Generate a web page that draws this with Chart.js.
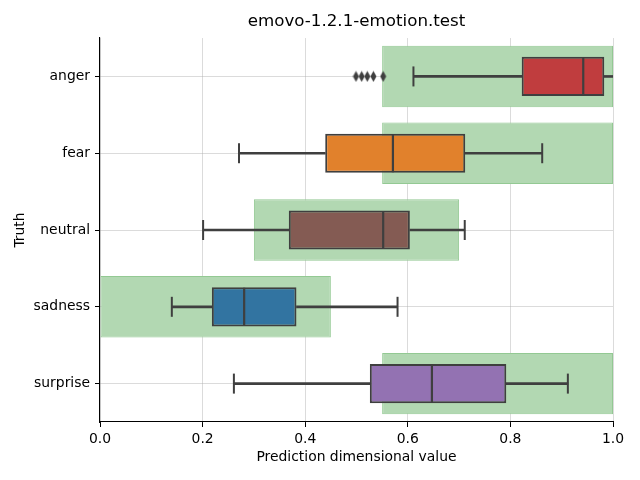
<!DOCTYPE html>
<html>
<head>
<meta charset="utf-8">
<script src="https://cdn.jsdelivr.net/npm/chart.js@4.4.1/dist/chart.umd.min.js"></script>
<style>
  html, body { margin: 0; padding: 0; background: #fff; }
  #wrap { width: 640px; height: 480px; }
</style>
</head>
<body>
<div id="wrap"><canvas id="c" width="640" height="480"></canvas></div>
<script>
// emotion categories (top to bottom)
const categories = ['anger', 'fear', 'neutral', 'sadness', 'surprise'];
// expected range for each emotion (green spans)
const rangeLow = [0.55, 0.55, 0.30, 0.00, 0.55];
const rangeHigh = [1.00, 1.00, 0.70, 0.45, 1.00];
// box plot statistics
const whiskerLow = [0.611, 0.271, 0.201, 0.140, 0.261];
const q1 = [0.822, 0.439, 0.368, 0.218, 0.526];
const median = [0.942, 0.571, 0.552, 0.281, 0.647];
const q3 = [0.983, 0.712, 0.604, 0.383, 0.792];
const whiskerHigh = [1.02, 0.862, 0.711, 0.580, 0.912];
// outliers (anger only)
const outlierCat = ['anger', 'anger', 'anger', 'anger', 'anger'];
const outlierVal = [0.499, 0.510, 0.521, 0.533, 0.552];
const xTicks = [0, 0.2, 0.4, 0.6, 0.8, 1.0];

const boxColors = ['#c03d3e', '#e1812c', '#845b53', '#3274a1', '#9372b2'];
const edge = '#3f3f3f';
const font = 'DejaVu Sans';

// thin diamond marker for outliers
let dia = document.createElement('canvas');
dia.width = 7; dia.height = 12;
let dctx = dia.getContext('2d');
dctx.fillStyle = edge;
dctx.beginPath();
dctx.moveTo(3.5, 0.5); dctx.lineTo(6.5, 6); dctx.lineTo(3.5, 11.5); dctx.lineTo(0.5, 6);
dctx.closePath();
dctx.fill();

let pts = (vals) => vals.map((v, i) => ({x: v, y: categories[i]}));

let cfg = {
    type: 'bar',
    data: {
        labels: categories,
        datasets: [
            {
                label: 'range', order: 6,
                data: categories.map((c, i) => [rangeLow[i], rangeHigh[i]]),
                backgroundColor: '#b2d8b2', borderColor: '#93c993', borderWidth: 1,
                barPercentage: 0.8, categoryPercentage: 1, borderSkipped: false
            },
            {
                label: 'whisker low', order: 5,
                data: categories.map((c, i) => [whiskerLow[i], q1[i]]),
                backgroundColor: edge, barThickness: 2, borderWidth: 0
            },
            {
                label: 'whisker high', order: 5,
                data: categories.map((c, i) => [q3[i], whiskerHigh[i]]),
                backgroundColor: edge, barThickness: 2, borderWidth: 0
            },
            {
                label: 'box', order: 4,
                data: categories.map((c, i) => [q1[i], q3[i]]),
                backgroundColor: boxColors, borderColor: edge, borderWidth: 2,
                barPercentage: 0.51, categoryPercentage: 1, borderSkipped: false
            },
            {
                type: 'scatter', label: 'median', order: 3,
                data: pts(median),
                pointStyle: 'line', rotation: 90, radius: 19,
                borderColor: edge, borderWidth: 2.2
            },
            {
                type: 'scatter', label: 'caps', order: 2,
                data: pts(whiskerLow).concat(pts(whiskerHigh)),
                pointStyle: 'line', rotation: 90, radius: 10,
                borderColor: edge, borderWidth: 2
            },
            {
                type: 'scatter', label: 'outliers', order: 1,
                data: outlierVal.map((v, i) => ({x: v, y: outlierCat[i]})),
                pointStyle: dia
            }
        ]
    },
    options: {
        indexAxis: 'y',
        responsive: false,
        animation: false,
        events: [],
        layout: {padding: {left: 0, right: 27, top: 0, bottom: 0}},
        datasets: {bar: {grouped: false}},
        plugins: {
            legend: {display: false},
            tooltip: {enabled: false},
            title: {
                display: true, fullSize: false, text: 'emovo-1.2.1-emotion.test', color: '#000',
                font: {family: font, size: 16.7, weight: 'normal'},
                padding: {top: 12, bottom: 6}
            }
        },
        scales: {
            x: {
                type: 'linear', min: 0, max: 1, z: 1,
                afterBuildTicks: (s) => { s.ticks = xTicks.map(v => ({value: v})); },
                afterFit: (s) => { s.height = 58; },
                ticks: {color: '#000', font: {family: font, size: 13.9}, padding: 4,
                    callback: (v) => v.toFixed(1)},
                grid: {color: 'rgba(176,176,176,0.45)', lineWidth: 1, tickColor: '#000', tickLength: 5},
                border: {display: true, color: '#000', width: 1.1},
                title: {display: true, text: 'Prediction dimensional value', color: '#000',
                    font: {family: font, size: 13.9}, padding: {top: 0, bottom: 14}}
            },
            y: {
                type: 'category', z: 1, offset: true,
                afterFit: (s) => { s.width = 100; },
                ticks: {color: '#000', font: {family: font, size: 13.9}, padding: 5},
                grid: {color: 'rgba(176,176,176,0.45)', lineWidth: 1, tickColor: '#000', tickLength: 5, offset: false},
                border: {display: true, color: '#000', width: 1.1},
                title: {display: true, text: 'Truth', color: '#000',
                    font: {family: font, size: 13.9}, padding: {top: 12, bottom: 0}}
            }
        }
    }
};

let ctx = document.getElementById('c').getContext('2d');
new Chart(ctx, cfg);
</script>
</body>
</html>
